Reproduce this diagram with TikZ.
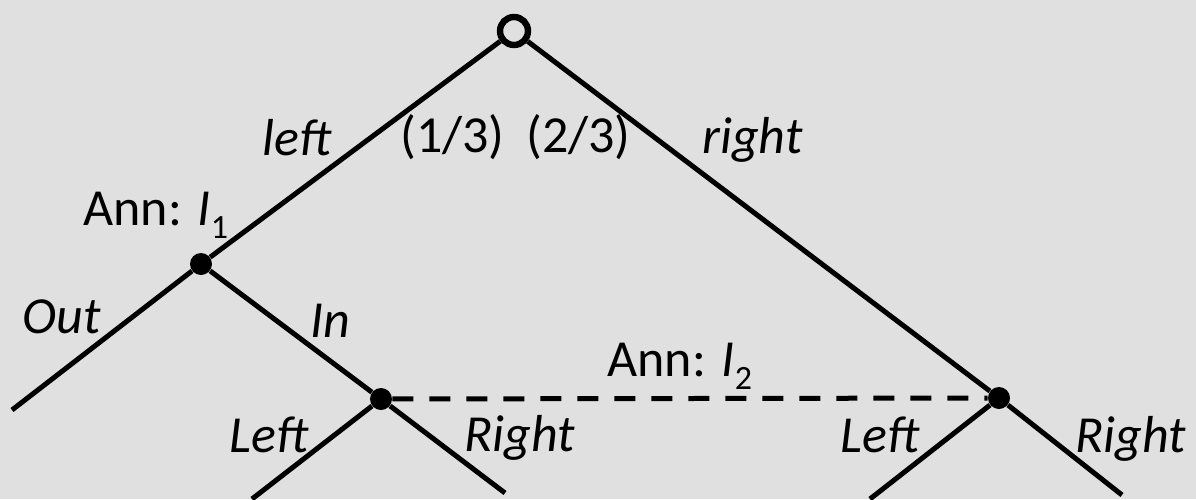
\documentclass[tikz,border=0pt]{standalone}
\usepackage{fontspec}
\setmainfont{Carlito}
\usetikzlibrary{positioning}
\definecolor{bg}{RGB}{224,224,224}
\newcommand{\annsub}[1]{{\itshape I}\raisebox{-6.5pt}{\fontsize{17}{17}\selectfont #1}}
\tikzset{
  branch/.style={line width=2.5pt},
  dot/.style={circle,fill=black,inner sep=0pt,minimum size=11pt},
  lbl/.style={font=\fontsize{26}{30}\selectfont\itshape,inner sep=0pt,anchor=base west},
  txt/.style={font=\fontsize{26}{30}\selectfont,inner sep=0pt,anchor=base west}
}
\begin{document}
\begin{tikzpicture}[x=0.5pt,y=-0.5pt]
\fill[bg] (0,0) rectangle (1196,499);
\useasboundingbox (0,0) rectangle (1196,499);
% decision nodes
\node[circle,draw,line width=3.2pt,inner sep=0pt,minimum size=14pt] (r) at (514,31){};
\node[dot] (a) at (201,264){};
\node[dot] (b) at (381,399){};
\node[dot] (c) at (999,398){};
% leaves
\coordinate (out) at (12,410);
\coordinate (bl) at (252,499);
\coordinate (br) at (505,493);
\coordinate (cl) at (870,499);
\coordinate (cr) at (1122,495);
\draw[branch](r)--(a);\draw[branch](r)--(c);
\draw[branch](a)--(out);\draw[branch](a)--(b);
\draw[branch](b)--(bl);\draw[branch](b)--(br);
\draw[branch](c)--(cl);\draw[branch](c)--(cr);
\draw[branch,dash pattern=on 10.5pt off 8pt](b)--(c);
% labels
\node[lbl] (ll) at (262,155){left};
\node[txt] (p1) at (400,152){(1/3)};
\node[txt] (p2) at (526,152){(2/3)};
\node[lbl] (rl) at (702,153){right};
\node[txt] (i1) at (83,225){Ann: \annsub{1}};
\node[lbl] (ol) at (22,333){Out};
\node[lbl] (il) at (310,337){In};
\node[txt] (i2) at (607,376){Ann: \annsub{2}};
\node[lbl] (l1) at (229,452){Left};
\node[lbl] (r1) at (464,451){Right};
\node[lbl] (l2) at (840,452){Left};
\node[lbl] (r2) at (1075,452){Right};
\end{tikzpicture}
\end{document}
